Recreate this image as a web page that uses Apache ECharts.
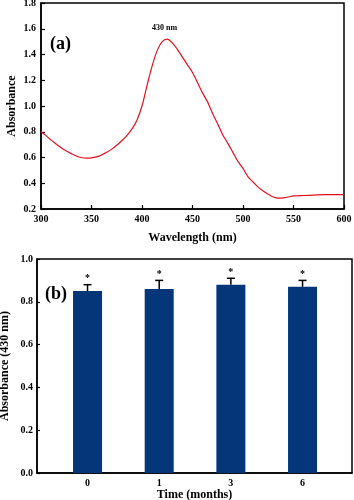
<!DOCTYPE html>
<html>
<head>
<meta charset="utf-8">
<script src="https://cdn.jsdelivr.net/npm/echarts@6/dist/echarts.min.js"></script>
<style>
html,body{margin:0;padding:0;background:#fff;}
#main{width:354px;height:500px;}
</style>
</head>
<body>
<div id="main"></div>
<script>
// (a) spectrum
var wavelength = [300,305,310,315,320,325,330,335,340,345,350,355,360,365,370,375,380,385,390,395,
    400,405,410,415,420,425,430,435,440,445,450,455,460,465,470,475,480,485,490,495,
    500,505,510,515,520,525,530,535,540,545,550,560,570,580,590,600];
var absorbance = [0.80,0.77,0.735,0.705,0.675,0.65,0.63,0.612,0.60,0.595,0.597,0.605,0.62,0.64,0.665,0.695,0.73,0.77,0.82,0.89,
    1.00,1.16,1.31,1.43,1.50,1.52,1.49,1.44,1.38,1.32,1.26,1.18,1.10,1.03,0.94,0.86,0.775,0.71,0.64,0.57,
    0.515,0.45,0.41,0.37,0.34,0.315,0.293,0.284,0.287,0.293,0.302,0.305,0.308,0.311,0.312,0.312];
var xTicksA = [300,350,400,450,500,550,600];
var yTicksA = [0.2,0.4,0.6,0.8,1.0,1.2,1.4,1.6,1.8];

// (b) bars
var months = ['0','1','3','6'];
var absorb430 = [0.85,0.86,0.88,0.87];
var absorbErr = [0.03,0.04,0.03,0.03];
var yTicksB = [0.0,0.2,0.4,0.6,0.8,1.0];

var font = 'Liberation Serif';
var myChart = echarts.init(document.getElementById('main'));

var lineData = wavelength.map(function(w, i){ return [w, absorbance[i]]; });
var barData = months.map(function(m, i){ return [i, absorb430[i]]; });
var errData = months.map(function(m, i){ return [i, absorb430[i], absorbErr[i]]; });

var labelStyle = {color:'#000', fontFamily:font, fontWeight:'bold', fontSize:10};
var nameStyle = {color:'#000', fontFamily:font, fontWeight:'bold', fontSize:12};
var axLine = {onZero:false, lineStyle:{color:'#000', width:1.5}};

option = {
    animation:false,
    backgroundColor:'#fff',
    grid:[
        {left:41, top:3, width:303, height:206, show:true, borderColor:'#000', borderWidth:1.5, outerBoundsMode:'none'},
        {left:37, top:259, width:315, height:214, show:true, borderColor:'#000', borderWidth:1.5, outerBoundsMode:'none'}
    ],
    graphic:[
        {type:'text', left:50, top:35, style:{text:'(a)', fill:'#000', font:'bold 18px "Liberation Serif"'}},
        {type:'text', left:45, top:285, style:{text:'(b)', fill:'#000', font:'bold 18px "Liberation Serif"'}},
        {type:'text', left:152, top:24, style:{text:'430 nm', fill:'#000', font:'bold 8px "Liberation Serif"'}}
    ],
    xAxis:[
        {
            gridIndex:0, type:'value', min:300, max:600, interval:50,
            name:'Wavelength (nm)', nameLocation:'middle', nameGap:23, nameTextStyle:nameStyle,
            axisLine:axLine,
            axisTick:{inside:true, length:4, lineStyle:{color:'#000', width:1.2}},
            axisLabel:Object.assign({margin:5, customValues:xTicksA}, labelStyle),
            splitLine:{show:false}
        },
        {
            gridIndex:1, type:'value', min:-0.705, max:3.69,
            name:'Time (months)', nameLocation:'middle', nameGap:15, nameTextStyle:nameStyle,
            axisLine:axLine,
            axisTick:{show:false},
            axisLabel:Object.assign({margin:5, customValues:[0,1,2,3], formatter:function(v){ return months[Math.round(v)]; }}, labelStyle),
            splitLine:{show:false}
        }
    ],
    yAxis:[
        {
            gridIndex:0, type:'value', min:0.2, max:1.8, interval:0.2,
            name:'Absorbance', nameLocation:'middle', nameGap:23, nameMoveOverlap:false, nameTextStyle:nameStyle,
            axisLine:axLine,
            axisTick:{inside:true, length:4, lineStyle:{color:'#000', width:1.2}, customValues:yTicksA},
            axisLabel:Object.assign({margin:5, customValues:yTicksA, formatter:function(v){ return v.toFixed(1); }}, labelStyle),
            splitLine:{show:false}
        },
        {
            gridIndex:1, type:'value', min:0, max:1.0, interval:0.2,
            name:'Absorbance (430 nm)', nameLocation:'middle', nameGap:26, nameMoveOverlap:false, nameTextStyle:nameStyle,
            axisLine:axLine,
            axisTick:{inside:true, length:3, lineStyle:{color:'#000', width:1.2}, customValues:yTicksB},
            axisLabel:Object.assign({margin:4, customValues:yTicksB, formatter:function(v){ return v.toFixed(1); }}, labelStyle),
            splitLine:{show:false}
        }
    ],
    series:[
        {
            type:'line', xAxisIndex:0, yAxisIndex:0, data:lineData,
            symbol:'none', smooth:0.3,
            lineStyle:{color:'#e3101c', width:1.2}
        },
        {
            type:'bar', xAxisIndex:1, yAxisIndex:1, data:barData,
            barWidth:29,
            itemStyle:{color:'#06367a'}
        },
        {
            type:'custom', xAxisIndex:1, yAxisIndex:1, data:errData,
            encode:{x:0, y:1},
            z:5,
            renderItem:function(params, api){
                var x = api.value(0), y = api.value(1), e = api.value(2);
                var p0 = api.coord([x, y]);
                var p1 = api.coord([x, y + e]);
                var st = {stroke:'#000', lineWidth:1.5};
                return {type:'group', children:[
                    {type:'line', shape:{x1:p0[0], y1:p0[1], x2:p1[0], y2:p1[1]}, style:st},
                    {type:'line', shape:{x1:p1[0]-4, y1:p1[1], x2:p1[0]+4, y2:p1[1]}, style:st},
                    {type:'text', x:p1[0], y:p1[1]-1, style:{text:'*', fill:'#000', font:'bold 10px "Liberation Serif"', textAlign:'center', textVerticalAlign:'bottom'}}
                ]};
            }
        }
    ]
};
myChart.setOption(option);
</script>
</body>
</html>
